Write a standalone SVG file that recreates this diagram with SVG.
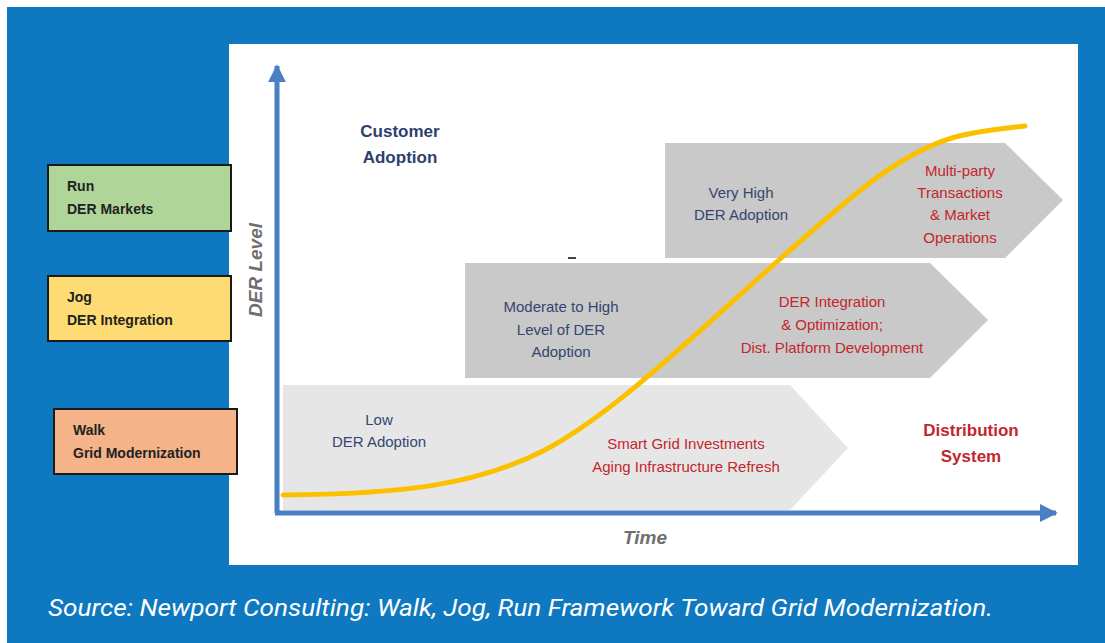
<svg xmlns="http://www.w3.org/2000/svg" width="1105" height="643" viewBox="0 0 1105 643">
  <defs>
    <style>
      .lbl { font-family: "Liberation Sans", Arial, sans-serif; font-size: 14px; font-weight: bold; fill: #222; }
      .navy { font-family: "Liberation Sans", Arial, sans-serif; font-size: 15px; fill: #34466f; text-anchor: middle; }
      .red { font-family: "Liberation Sans", Arial, sans-serif; font-size: 15px; fill: #c3262c; text-anchor: middle; }
      .head { font-family: "Liberation Sans", Arial, sans-serif; font-size: 17px; font-weight: bold; }
      .axislbl { font-family: "Liberation Sans", Arial, sans-serif; font-size: 19px; font-style: italic; font-weight: bold; fill: #6f6f6f; }
      .axis { stroke: #4a7fc2; stroke-width: 5; fill: none; }
      .stage { stroke: #1a1a1a; stroke-width: 2; }
    </style>
    <marker id="ah" viewBox="0 0 10 10" refX="9" refY="5" markerWidth="3.6" markerHeight="3.6" orient="auto" markerUnits="strokeWidth">
      <path d="M0,0 L10,5 L0,10 z" fill="#4a7fc2"/>
    </marker>
  </defs>

  <!-- background frame -->
  <rect x="0" y="0" width="1105" height="643" fill="#ffffff"/>
  <rect x="7" y="7" width="1098" height="636" fill="#0e78c0"/>
  <rect x="229" y="44" width="849" height="521" fill="#ffffff"/>

  <!-- phase chevrons -->
  <g id="phase-walk">
    <polygon points="283,385 790,385 848,448 790,510 283,510" fill="#e6e6e6"/>
    <text class="navy" x="379" y="425">Low</text>
    <text class="navy" x="379" y="447">DER Adoption</text>
    <text class="red" x="686" y="449">Smart Grid Investments</text>
    <text class="red" x="686" y="472">Aging Infrastructure Refresh</text>
  </g>
  <g id="phase-jog">
    <polygon points="465,263 930,263 988,320 930,378 465,378" fill="#c9c9c9"/>
    <text class="navy" x="561" y="312">Moderate to High</text>
    <text class="navy" x="561" y="335">Level of DER</text>
    <text class="navy" x="561" y="357">Adoption</text>
    <text class="red" x="832" y="307">DER Integration</text>
    <text class="red" x="832" y="330">&amp; Optimization;</text>
    <text class="red" x="832" y="353">Dist. Platform Development</text>
  </g>
  <g id="phase-run">
    <polygon points="665,143 1005,143 1063,200 1005,258 665,258" fill="#c9c9c9"/>
    <text class="navy" x="741" y="198">Very High</text>
    <text class="navy" x="741" y="220">DER Adoption</text>
    <text class="red" x="960" y="176">Multi-party</text>
    <text class="red" x="960" y="198">Transactions</text>
    <text class="red" x="960" y="220">&amp; Market</text>
    <text class="red" x="960" y="243">Operations</text>
  </g>
  <line x1="568" y1="258" x2="576" y2="258" stroke="#444" stroke-width="2"/>

  <!-- adoption curve -->
  <g id="adoption-curve">
    <path d="M283,495 C400,494 475,486 545,450 C620,410 710,320 788,252 C850,198 895,155 955,137 C988,129 1010,128 1025,126" fill="none" stroke="#fbc100" stroke-width="5" stroke-linecap="round"/>
  </g>

  <!-- axes -->
  <g id="connectors">
    <line class="axis" x1="277" y1="513" x2="277" y2="66" marker-end="url(#ah)"/>
    <line class="axis" x1="275" y1="513" x2="1056" y2="513" marker-end="url(#ah)"/>
  </g>

  <!-- axis labels and headings -->
  <g id="axis-labels">
    <text class="axislbl" x="0" y="0" text-anchor="middle" transform="translate(262,270) rotate(-90)">DER Level</text>
    <text class="axislbl" x="645" y="544" text-anchor="middle">Time</text>
    <text class="head" fill="#2e3f6e" x="400" y="137" text-anchor="middle">Customer</text>
    <text class="head" fill="#2e3f6e" x="400" y="163" text-anchor="middle">Adoption</text>
    <text class="head" fill="#c3262c" x="971" y="436" text-anchor="middle">Distribution</text>
    <text class="head" fill="#c3262c" x="971" y="462" text-anchor="middle">System</text>
  </g>

  <!-- stage labels -->
  <g id="stage-run">
    <rect class="stage" x="48" y="165" width="183" height="66" fill="#b0d598"/>
    <text class="lbl" x="67" y="191">Run</text>
    <text class="lbl" x="67" y="214">DER Markets</text>
  </g>
  <g id="stage-jog">
    <rect class="stage" x="48" y="276" width="183" height="65" fill="#fedc73"/>
    <text class="lbl" x="67" y="302">Jog</text>
    <text class="lbl" x="67" y="325">DER Integration</text>
  </g>
  <g id="stage-walk">
    <rect class="stage" x="54" y="409" width="183" height="65" fill="#f4b389"/>
    <text class="lbl" x="73" y="435">Walk</text>
    <text class="lbl" x="73" y="458">Grid Modernization</text>
  </g>

  <!-- caption -->
  <text x="48" y="616" font-family="Roboto, 'Liberation Sans', sans-serif" font-style="italic" font-size="23" fill="#ffffff" textLength="945" lengthAdjust="spacingAndGlyphs">Source: Newport Consulting: Walk, Jog, Run Framework Toward Grid Modernization.</text>
</svg>
